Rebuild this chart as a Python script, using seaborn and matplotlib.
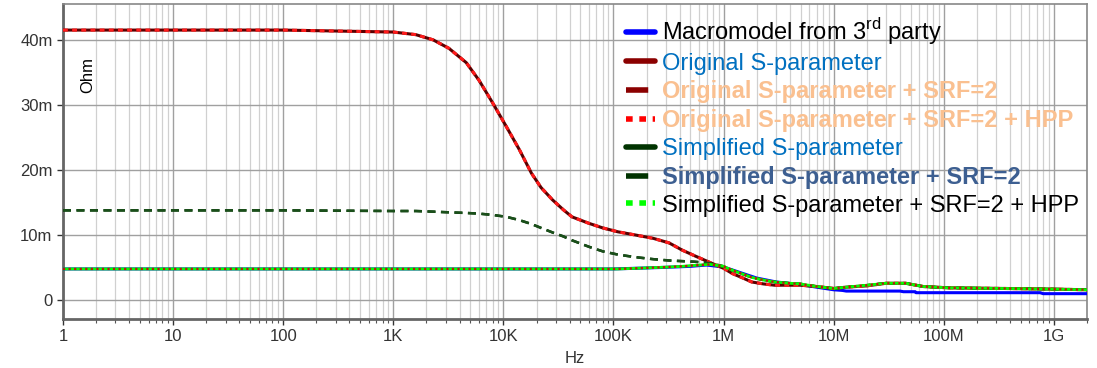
import matplotlib
matplotlib.use("Agg")
import matplotlib.pyplot as plt
import matplotlib.ticker as mticker
from matplotlib.lines import Line2D
import numpy as np
import pandas as pd
import seaborn as sns

# ---------------- data ----------------
freq = [1, 10, 100, 1e3, 1.6e3, 2.3e3, 3.2e3, 4.6e3, 6e3, 8e3,
        1.07e4, 1.4e4, 1.8e4, 2.2e4, 2.8e4, 3.5e4, 4.2e4, 6e4, 8e4, 1.1e5,
        1.6e5, 2.3e5, 3.2e5, 4.2e5, 5.5e5, 7.5e5, 1e6, 1.2e6, 1.5e6, 1.8e6,
        2.3e6, 2.9e6, 4e6, 5e6, 7e6, 1e7, 1.3e7, 2e7, 3e7, 4.5e7,
        6.5e7, 1.1e8, 3.5e8, 1e9, 2e9]

orig_m = [41.5, 41.5, 41.5, 41.2, 40.8, 40.0, 38.7, 36.5, 33.8, 30.3,
          26.6, 23.1, 19.5, 17.3, 15.4, 13.9, 12.8, 11.8, 11.1, 10.5,
          10.0, 9.5, 8.8, 7.7, 6.8, 5.8, 4.9, 4.1, 3.4, 2.8,
          2.5, 2.3, 2.3, 2.3, 2.1, 1.8, 2.0, 2.2, 2.6, 2.6,
          2.1, 1.9, 1.8, 1.7, 1.6]

simp_m = [13.8, 13.8, 13.8, 13.7, 13.7, 13.6, 13.5, 13.4, 13.3, 13.1,
          12.8, 12.3, 11.7, 11.1, 10.4, 9.8, 9.2, 8.2, 7.5, 7.0,
          6.6, 6.3, 6.1, 6.0, 5.9, 5.7, 5.2, 4.6, 4.0, 3.5,
          3.1, 2.8, 2.6, 2.5, 2.1, 1.8, 2.0, 2.3, 2.6, 2.6,
          2.1, 1.9, 1.8, 1.7, 1.6]

hpp_m = [4.8, 4.8, 4.8, 4.8, 4.8, 4.8, 4.8, 4.8, 4.8, 4.8,
         4.8, 4.8, 4.8, 4.8, 4.8, 4.8, 4.8, 4.8, 4.8, 4.8,
         4.9, 5.0, 5.1, 5.2, 5.35, 5.5, 5.2, 4.6, 4.0, 3.5,
         3.1, 2.8, 2.6, 2.5, 2.1, 1.8, 2.0, 2.3, 2.6, 2.6,
         2.1, 1.9, 1.8, 1.7, 1.6]

freq_macro = [1, 10, 100, 1e3, 1e4, 1e5, 2e5, 3e5, 5e5, 7e5, 1e6, 1.5e6, 2e6, 3e6, 5e6,
              7e6, 1e7, 1.2e7, 1.3e7, 4e7, 4.3e7, 5.5e7, 5.6e7, 7.5e8, 8e8, 2e9]
macro_m = [4.8, 4.8, 4.8, 4.8, 4.8, 4.8, 4.95, 5.05, 5.2, 5.4, 5.1, 4.1, 3.4, 2.8, 2.4,
           2.0, 1.6, 1.5, 1.4, 1.4, 1.3, 1.3, 1.15, 1.15, 1.0, 1.0]

x_ticks = [1, 10, 100, 1e3, 1e4, 1e5, 1e6, 1e7, 1e8, 1e9]
x_labels = ["1", "10", "100", "1K", "10K", "100K", "1M", "10M", "100M", "1G"]
y_ticks = [0, 10, 20, 30, 40]
y_labels = ["0", "10m", "20m", "30m", "40m"]

legend_labels = ["Macromodel from 3$^{\\mathrm{rd}}$ party",
                 "Original S-parameter",
                 "Original S-parameter + SRF=2",
                 "Original S-parameter + SRF=2 + HPP",
                 "Simplified S-parameter",
                 "Simplified S-parameter + SRF=2",
                 "Simplified S-parameter + SRF=2 + HPP"]
legend_text_colors = ["black", "#0070C0", "#FAC090", "#FAC090", "#0070C0", "#3D5F91", "black"]
legend_bold = [False, False, True, True, False, True, False]

# ---------------- style ----------------
sns.set_theme(style="white")
plt.rcParams["font.family"] = ["Liberation Sans", "DejaVu Sans"]
plt.rcParams["mathtext.fontset"] = "custom"
plt.rcParams["mathtext.rm"] = "Liberation Sans"

fig = plt.figure(figsize=(10.97, 3.68), dpi=100)
ax = fig.add_axes([0.0574, 0.133, 0.9335, 0.856])

df_main = pd.DataFrame({"f": freq, "orig": orig_m, "simp": simp_m, "hpp": hpp_m})
df_macro = pd.DataFrame({"f": freq_macro, "z": macro_m})

c_blue = "#0000FF"
c_dred = "#8B0000"
c_red = "#FF0000"
c_dgreen = "#003300"
c_lime = "#00FF00"

# macromodel
sns.lineplot(data=df_macro, x="f", y="z", ax=ax, color=c_blue, lw=2.2, zorder=3)
# original (solid + SRF=2 dashes)
sns.lineplot(data=df_main, x="f", y="orig", ax=ax, color="#5A0000", lw=2.2, zorder=4)
sns.lineplot(data=df_main, x="f", y="orig", ax=ax, color="#FF1A1A", lw=2.2,
             linestyle=(0, (1.6, 1.4)), zorder=5)
# simplified (dashed)
sns.lineplot(data=df_main, x="f", y="simp", ax=ax, color=c_dgreen, lw=1.8,
             linestyle=(0, (3.2, 2.2)), zorder=4)
sns.lineplot(data=df_main, x="f", y="simp", ax=ax, color="#1A4F1A", lw=1.8,
             linestyle=(0, (3.2, 2.2)), zorder=5)
# HPP variants
sns.lineplot(data=df_main, x="f", y="hpp", ax=ax, color=c_lime, lw=2.0, zorder=6)
sns.lineplot(data=df_main, x="f", y="hpp", ax=ax, color="#C01010", lw=1.6,
             linestyle=(0, (1, 1.5)), zorder=7)

ax.set_xscale("log")
ax.set_xlim(1, 2e9)
ax.set_ylim(-2.9, 45.5)

ax.set_xticks(x_ticks)
ax.set_xticklabels(x_labels)
ax.xaxis.set_minor_locator(mticker.LogLocator(base=10, subs=np.arange(2, 10), numticks=100))
ax.xaxis.set_minor_formatter(mticker.NullFormatter())
ax.set_yticks(y_ticks)
ax.set_yticklabels(y_labels)

ax.grid(True, which="major", axis="both", color="#A0A0A0", lw=1.0)
ax.grid(True, which="minor", axis="x", color="#D0D0D0", lw=0.9)
ax.set_axisbelow(True)

ax.tick_params(axis="both", which="major", labelsize=12, colors="#333333",
               direction="out", length=4, width=1, bottom=True, left=True)
ax.tick_params(axis="x", which="minor", direction="out", length=3, width=0.8,
               bottom=True, color="#555555")
for lbl in ax.get_xticklabels() + ax.get_yticklabels():
    lbl.set_color("#333333")

for side in ["left", "bottom"]:
    ax.spines[side].set_color("#666666")
    ax.spines[side].set_linewidth(2.0)
for side in ["top", "right"]:
    ax.spines[side].set_color("#888888")
    ax.spines[side].set_linewidth(1.2)

ax.set_xlabel("Hz", fontsize=12, color="#333333", labelpad=5)
ax.set_ylabel("")
ax.text(0.024, 0.775, "Ohm", transform=ax.transAxes, rotation=90, fontsize=12,
        color="black", ha="center", va="center")

# ---------------- legend ----------------
handles = [
    Line2D([], [], color=c_blue, lw=4),
    Line2D([], [], color=c_dred, lw=4),
    Line2D([], [], color=c_dred, lw=4, dashes=(4, 2.2, 1.5, 2.2)),
    Line2D([], [], color=c_red, lw=4, dashes=(1.2, 1.2)),
    Line2D([], [], color=c_dgreen, lw=4),
    Line2D([], [], color=c_dgreen, lw=4, dashes=(4, 2.2, 1.5, 2.2)),
    Line2D([], [], color=c_lime, lw=4, dashes=(1.2, 1.2)),
]
leg = ax.legend(handles, legend_labels, loc="upper left", bbox_to_anchor=(0.541, 0.992),
                frameon=False, fontsize=17, handlelength=1.2, handletextpad=0.3,
                labelspacing=0.245, borderaxespad=0.0)
for t, c, b in zip(leg.get_texts(), legend_text_colors, legend_bold):
    t.set_color(c)
    if b:
        t.set_fontweight("bold")

fig.savefig("out.png", dpi=100)
